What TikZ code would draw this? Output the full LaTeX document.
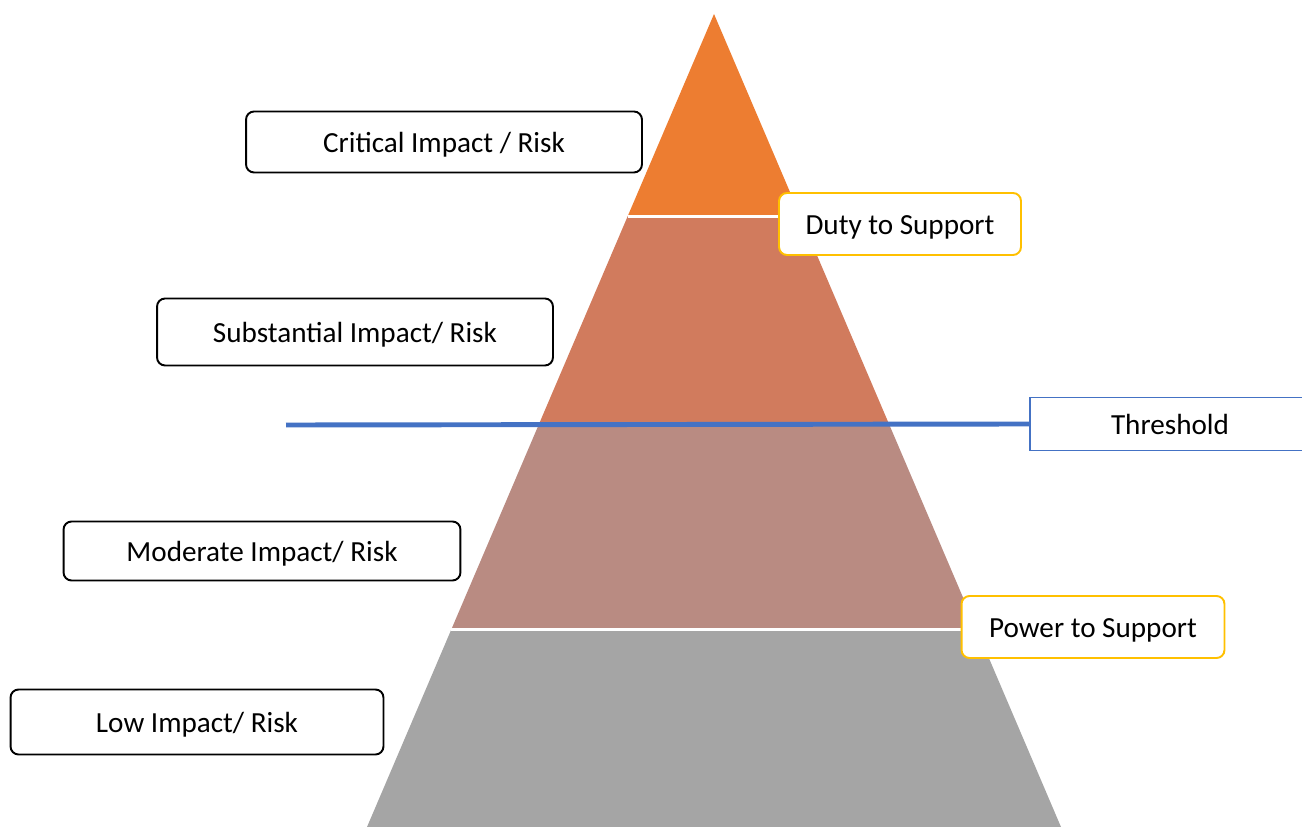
\documentclass[tikz,border=0pt]{standalone}
\usepackage{fontspec}
\setmainfont{Carlito}
\usetikzlibrary{positioning}
\usetikzlibrary{calc}
\definecolor{toporange}{HTML}{ED7D31}
\definecolor{subband}{HTML}{D17B5D}
\definecolor{modband}{HTML}{B98B82}
\definecolor{lowband}{HTML}{A5A5A5}
\definecolor{goldline}{HTML}{FFC000}
\definecolor{threshblue}{HTML}{4472C4}
\begin{document}
\begin{tikzpicture}[x=0.02cm,y=-0.02cm,
    font=\fontsize{16.6}{20}\selectfont,
    every node/.style={text height=14.5pt,text depth=2pt},
    level/.style={draw=black,line width=1.1pt,rounded corners=0.16cm,fill=white,minimum height=1.22cm},
    power/.style={draw=goldline,line width=1.1pt,rounded corners=0.16cm,fill=white,minimum height=1.24cm},
    sep/.style={white,line width=1.7pt}]
            \useasboundingbox (0,0) rectangle (1302,827);
            \coordinate (T) at (714,14);
            \coordinate (L) at (367,827);
            \coordinate (R) at (1061,827);
            % bands of the pyramid
            \fill[toporange] (T) -- ($(T)!0.2485!(L)$) -- ($(T)!0.2485!(R)$) -- cycle;
            \fill[subband] ($(T)!0.2485!(L)$) -- ($(T)!0.5018!(L)$) -- ($(T)!0.5018!(R)$) -- ($(T)!0.2485!(R)$) -- cycle;
            \fill[modband] ($(T)!0.5018!(L)$) -- ($(T)!0.7565!(L)$) -- ($(T)!0.7565!(R)$) -- ($(T)!0.5018!(R)$) -- cycle;
            \fill[lowband] ($(T)!0.7565!(L)$) -- (L) -- (R) -- ($(T)!0.7565!(R)$) -- cycle;
            \draw[sep] ($(T)!0.2485!(L)$) -- ($(T)!0.2485!(R)$);
            \draw[sep] ($(T)!0.7565!(L)$) -- ($(T)!0.7565!(R)$);
            % levels
            \node[level,minimum width=7.92cm] (crit) at (444,142) {Critical Impact / Risk};
            \node[level,minimum width=7.92cm,minimum height=1.34cm] (subst) at (355,332) {Substantial Impact/ Risk};
            \node[level,minimum width=7.94cm,minimum height=1.18cm] (moder) at (262,551) {Moderate Impact/ Risk};
            \node[level,minimum width=7.46cm,minimum height=1.3cm] (low) at (197,722) {Low Impact/ Risk};
            % duties
            \node[power,minimum width=4.84cm] (duty) at (900,224) {Duty to Support};
            \node[power,minimum width=5.26cm] (pow) at (1093,627) {Power to Support};
            % threshold
            \node[draw=threshblue,line width=0.8pt,fill=white,minimum width=5.6cm,minimum height=1.06cm] (thresh) at (1170,424) {Threshold};
            \coordinate (tstart) at (286,425);
            \draw[threshblue,line width=2.8pt] (tstart) -- (thresh.west);
        \end{tikzpicture}
\end{document}
